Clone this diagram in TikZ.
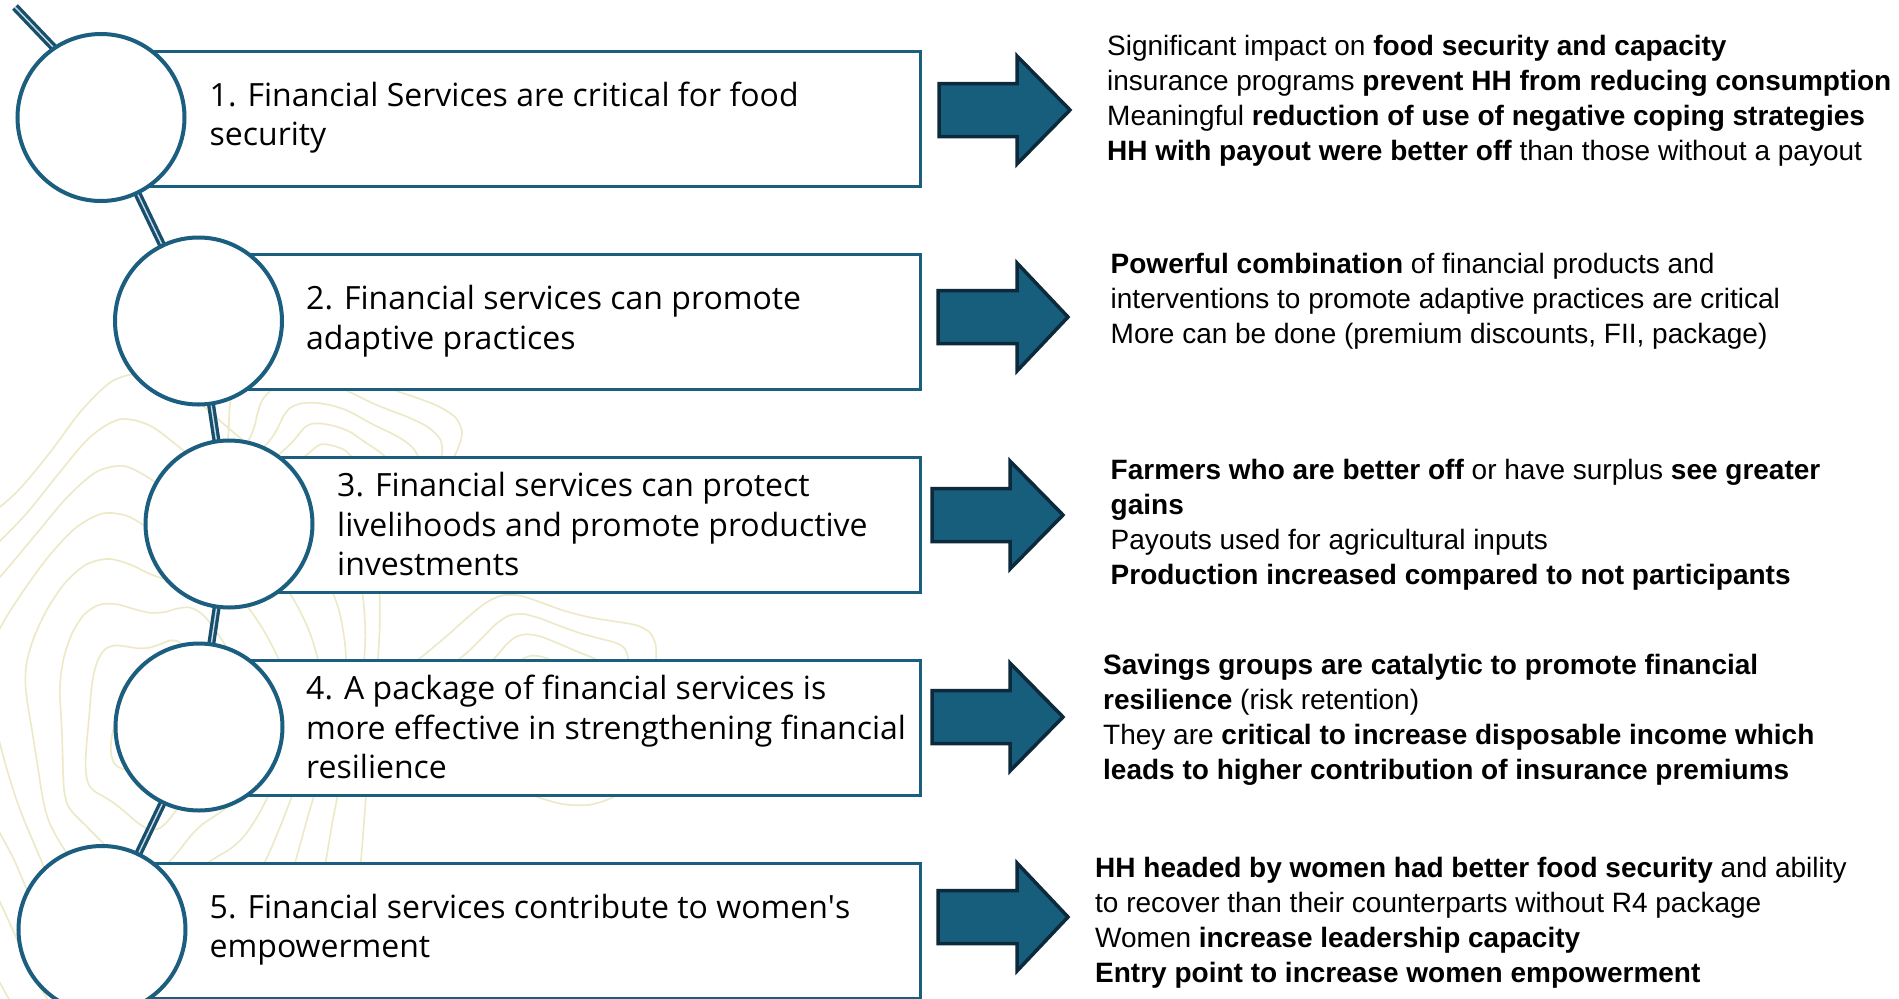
\documentclass[tikz,border=0pt]{standalone}
\usepackage{fontspec}
\setmainfont{Open Sans}
\newfontfamily\rfont{Liberation Sans}
\definecolor{teal1}{HTML}{1B5E7F}
\definecolor{arrowfill}{HTML}{175E7D}
\definecolor{arrowline}{HTML}{0C2A3B}
\definecolor{linkc}{HTML}{184F6C}
\definecolor{linkin}{HTML}{C9DCE6}
\definecolor{contourc}{HTML}{EDE9C6}
\tikzset{
  contour/.style={draw=contourc, line width=1.6pt},
  link/.style={draw=linkc, line width=3.3pt, double=linkin, double distance=1.4pt},
  stage/.style={circle, draw=teal1, line width=4pt, fill=white, minimum size=167pt, inner sep=0pt},
  box/.style={rectangle, draw=teal1, line width=3pt, fill=white, minimum height=135pt, anchor=north west, inner sep=0pt},
  ltext/.style={anchor=west, align=left, inner sep=0pt, font=\fontsize{32}{39.5}\selectfont, text=black},
  rtext/.style={anchor=west, align=left, inner sep=0pt, font=\rfont\fontsize{28}{35}\selectfont, text=black},
  fatarrow/.style={draw=arrowline, fill=arrowfill, line width=3.5pt, line join=miter}
}
\newcommand\fatarrow[4]{%
  \draw[fatarrow] (#1,#4-26.5) -- (#2,#4-26.5) -- (#2,#4-54) -- (#3,#4) -- (#2,#4+54) -- (#2,#4+26.5) -- (#1,#4+26.5) -- cycle;}
\begin{document}
\begin{tikzpicture}[x=1pt, y=-1pt]
\useasboundingbox (0,0) rectangle (1899,999);
\clip (0,0) rectangle (1899,999);
\fill[white] (0,0) rectangle (1899,999);

% background contour lines
\foreach \r in {40,70,...,250}
  \draw[contour] plot[smooth cycle, samples=40, domain=0:351, variable=\t]
    ({150+\r*cos(\t)*(1+0.12*sin(3*\t+\r))}, {730+1.3*\r*sin(\t)*(1+0.1*cos(5*\t-\r))});
\foreach \r in {25,45,...,105}
  \draw[contour] plot[smooth cycle, samples=36, domain=0:350, variable=\t]
    ({330+1.2*\r*cos(\t)*(1+0.15*sin(4*\t+2*\r))}, {470+\r*sin(\t)*(1+0.1*cos(3*\t))});
\foreach \r in {20,40,...,100}
  \draw[contour] plot[smooth cycle, samples=36, domain=0:350, variable=\t]
    ({540+1.3*\r*cos(\t)*(1+0.15*sin(3*\t-\r))}, {700+\r*sin(\t)*(1+0.12*cos(4*\t+\r))});

% centres
\coordinate (top) at (15,7);
\coordinate (topend) at (75,70);
\coordinate (p1) at (101,117.5);
\coordinate (p2) at (198.5,321);
\coordinate (p3) at (229,524);
\coordinate (p4) at (199,727);
\coordinate (p5) at (102,929.5);

% boxes
\node (b1) [box, minimum width=818pt] at (101,50) {};
\node (b2) [box, minimum width=720.5pt] at (198.5,253) {};
\node (b3) [box, minimum width=690pt] at (229,456) {};
\node (b4) [box, minimum width=720pt] at (199,659) {};
\node (b5) [box, minimum width=817pt] at (102,862) {};

% connectors
\draw[link] (top) -- (topend);
\draw[link] (p1) -- (p2);
\draw[link] (p2) -- (p3);
\draw[link] (p3) -- (p4);
\draw[link] (p4) -- (p5);

% circles
\node (c1) [stage] at (p1) {};
\node (c2) [stage] at (p2) {};
\node (c3) [stage] at (p3) {};
\node (c4) [stage] at (p4) {};
\node (c5) [stage] at (p5) {};

% left texts
\node (t1) [ltext] at (209.5,117.5) {1. Financial Services are critical for food\\security};
\node (t2) [ltext] at (306,321) {2. Financial services can promote\\adaptive practices};
\node (t3) [ltext] at (337,524) {3. Financial services can protect\\livelihoods and promote productive\\investments};
\node (t4) [ltext] at (306,727) {4. A package of financial services is\\more effective in strengthening financial\\resilience};
\node (t5) [ltext] at (209.5,929.5) {5. Financial services contribute to women\textquotesingle s\\empowerment};

% arrows
\fatarrow{939}{1017}{1070}{110}
\fatarrow{938}{1017}{1068}{317}
\fatarrow{932}{1010}{1063}{515}
\fatarrow{932}{1010}{1063}{717}
\fatarrow{938}{1017}{1068}{917}

% right texts
\node (r1) [rtext] at (1107,100.5) {Significant impact on \textbf{food security and capacity}\\insurance programs \textbf{prevent HH from reducing consumption}\\Meaningful \textbf{reduction of use of negative coping strategies}\\\textbf{HH with payout were better off} than those without a payout};
\node (r2) [rtext] at (1110.5,301.5) {\textbf{Powerful combination} of financial products and\\interventions to promote adaptive practices are critical\\More can be done (premium discounts, FII, package)};
\node (r3) [rtext] at (1110.5,524.5) {\textbf{Farmers who are better off} or have surplus \textbf{see greater}\\\textbf{gains}\\Payouts used for agricultural inputs\\\textbf{Production increased compared to not participants}};
\node (r4) [rtext] at (1103,719.5) {\textbf{Savings groups are catalytic to promote financial}\\\textbf{resilience} (risk retention)\\They are \textbf{critical to increase disposable income which}\\\textbf{leads to higher contribution of insurance premiums}};
\node (r5) [rtext] at (1095,922.5) {\textbf{HH headed by women had better food security} and ability\\to recover than their counterparts without R4 package\\Women \textbf{increase leadership capacity}\\\textbf{Entry point to increase women empowerment}};
\end{tikzpicture}
\end{document}
